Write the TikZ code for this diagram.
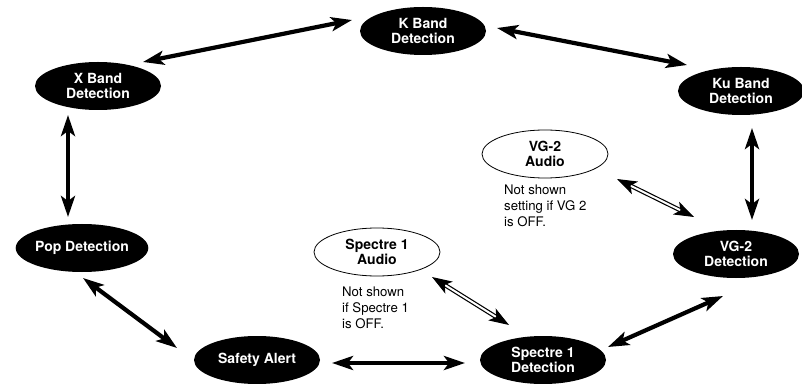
\documentclass[tikz,border=0pt]{standalone}
\usepackage{fontspec}
\setmainfont{TeX Gyre Heros}
\usetikzlibrary{arrows.meta,positioning,shapes.geometric}
\tikzset{
  bandnode/.style={ellipse,fill=black,text=white,minimum width=126pt,
    minimum height=48pt,inner sep=0pt,align=center,
    font=\bfseries\fontsize{14}{14.5}\selectfont},
  audionode/.style={ellipse,draw=black,line width=0.8pt,fill=white,
    minimum width=126pt,minimum height=48pt,inner sep=0pt,align=center,
    font=\bfseries\fontsize{14}{14.5}\selectfont},
  note/.style={anchor=north west,inner sep=0pt,align=left,
    font=\fontsize{13.2}{16}\selectfont},
  arrow/.style={{Stealth[length=21pt,width=14pt,inset=5pt]}-{Stealth[length=21pt,width=14pt,inset=5pt]},
    line width=4.2pt},
  hollow/.style={{Stealth[length=20pt,width=14pt,inset=5pt]}-{Stealth[length=20pt,width=14pt,inset=5pt]},
    line width=1.2pt,double=white,double distance=2pt}
}
\begin{document}
\begin{tikzpicture}[x=1pt,y=1pt]
  \useasboundingbox (0,0) rectangle (802,383);
  % main loop
  \node[bandnode] (K) at (423,352) {K Band\\Detection};
  \node[bandnode] (Ku) at (741,292) {Ku Band\\Detection};
  \node[bandnode] (X) at (98,297) {X Band\\Detection};
  \node[bandnode] (Pop) at (82,135) {Pop Detection};
  \node[bandnode] (Safety) at (257,23) {Safety Alert};
  \node[bandnode] (Spec) at (543,23) {Spectre 1\\Detection};
  \node[bandnode] (VG) at (736,129) {VG-2\\Detection};
  % audio settings
  \node[audionode] (VGA) at (545,229) {VG-2\\Audio};
  \node[audionode] (SpecA) at (377,131) {Spectre 1\\Audio};
  \node[note] (VGnote) at (504,198) {Not shown\\setting if VG 2\\is OFF.};
  \node[note] (Specnote) at (342,96) {Not shown\\if Spectre 1\\is OFF.};
  % arrows
  \draw[arrow] ([shift={(45,24)}]X.center) -- ([shift={(-71,11)}]K.center);
  \draw[arrow] ([shift={(74,3)}]K.center) -- ([shift={(-54,26)}]Ku.center);
  \draw[arrow] ([shift={(11,-37)}]Ku.center) -- ([shift={(16,34)}]VG.center);
  \draw[arrow] ([shift={(-30,-29)}]X.center) -- ([shift={(-14,31)}]Pop.center);
  \draw[arrow] ([shift={(1,-30)}]Pop.center) -- ([shift={(-80,12)}]Safety.center);
  \draw[arrow] ([shift={(75,-3)}]Safety.center) -- ([shift={(-78,-3)}]Spec.center);
  \draw[arrow] ([shift={(65,13)}]Spec.center) -- ([shift={(-13,-42)}]VG.center);
  \draw[hollow] ([shift={(72,-25)}]VGA.center) -- ([shift={(-42,37)}]VG.center);
  \draw[hollow] ([shift={(55,-25)}]SpecA.center) -- ([shift={(-34,35)}]Spec.center);
\end{tikzpicture}
\end{document}
